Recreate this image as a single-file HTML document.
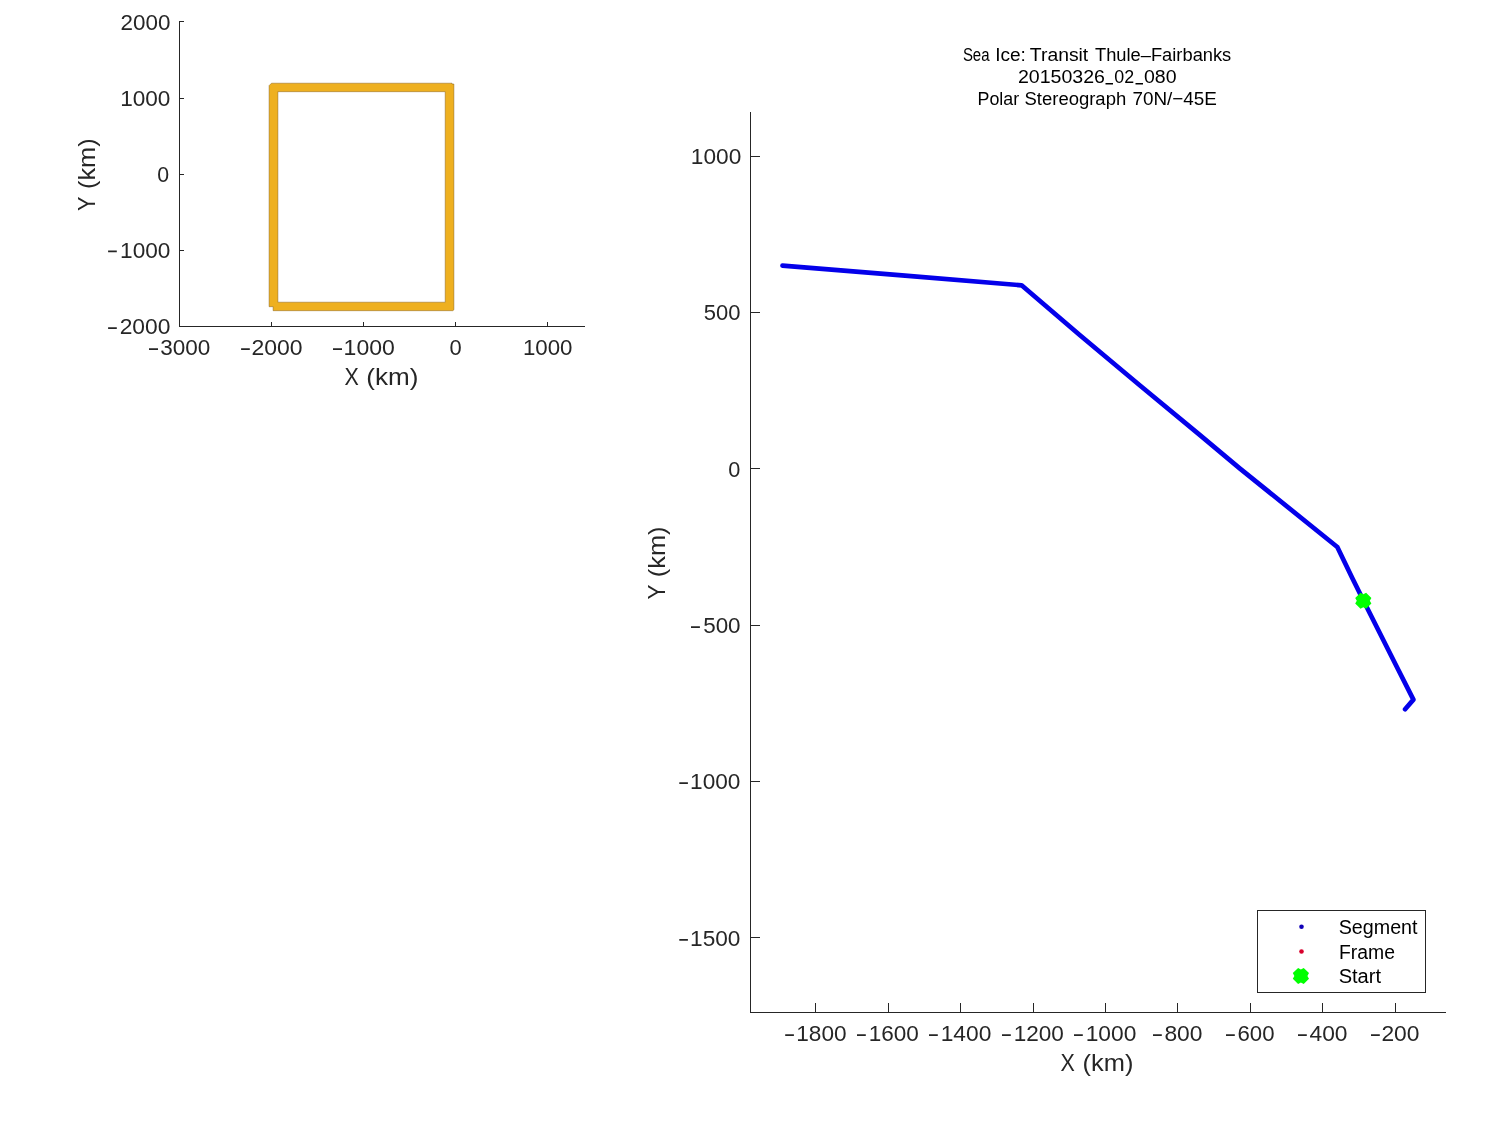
<!DOCTYPE html>
<html>
<head>
<meta charset="utf-8">
<title>Sea Ice: Transit Thule-Fairbanks</title>
<style>
  html, body { margin: 0; padding: 0; background: #ffffff; }
  body { width: 1500px; height: 1125px; overflow: hidden; font-family: "Liberation Sans", sans-serif; }
  svg { display: block; will-change: transform; transform: translateZ(0); }
  text { font-family: "Liberation Sans", sans-serif; }
  .tk { font-size: 21.7px; fill: #262626; }
  .lb { font-size: 24.0px; fill: #262626; }
  .tt { font-size: 18.3px; fill: #000000; }
  .lg { font-size: 19.4px; fill: #000000; }
  .mn { fill: #262626; }
  .ax { stroke: #262626; stroke-width: 1; fill: none; shape-rendering: crispEdges; }
</style>
</head>
<body>
<svg width="1500" height="1125" viewBox="0 0 1500 1125">
  <rect x="0" y="0" width="1500" height="1125" fill="#ffffff"/>

  <!-- ============ INSET AXES ============ -->
  <g id="inset">
    <!-- yellow frame -->
    <path d="M269.1,85.6 L271.5,83.2 H452 V84 H453.9 V309.8 L452.9,310.7 H273.1 V306.7 H269.1 Z M277.9,91.7 V302.2 H445.2 V91.7 Z" fill="#EEB020" fill-rule="evenodd" stroke="#7A5818" stroke-opacity="0.75" stroke-width="0.6" stroke-linejoin="miter"/>
    <!-- axes lines -->
    <path class="ax" d="M179.5,21 V326.5 M179,326.5 H585"/>
    <!-- y ticks -->
    <path class="ax" d="M180,21.5 H184 M180,98.5 H184 M180,174.5 H184 M180,250.5 H184"/>
    <!-- x ticks -->
    <path class="ax" d="M271.5,322 V326 M363.5,322 V326 M455.5,322 V326 M547.5,322 V326"/>
  </g>

  <!-- ============ MAIN AXES ============ -->
  <g id="main">
    <path class="ax" d="M750.5,112 V1012.5 M750,1012.5 H1446"/>
    <path class="ax" d="M751,156.5 H760 M751,312.5 H760 M751,468.5 H760 M751,625.5 H760 M751,781.5 H760 M751,937.5 H760"/>
    <path class="ax" d="M815.5,1003 V1012 M888.5,1003 V1012 M960.5,1003 V1012 M1033.5,1003 V1012 M1105.5,1003 V1012 M1177.5,1003 V1012 M1250.5,1003 V1012 M1322.5,1003 V1012 M1395.5,1003 V1012"/>
  </g>

  <!-- ============ DATA (main) ============ -->
  <g id="data">
    <path d="M782.5,265.6 L902,275.3 L1021.6,285.3 L1080,335.3 L1140,385.5 L1200,435.1 L1240,468.6 L1337.3,547 L1352.5,578.5 L1363.4,600.5 L1398.4,670 L1413.4,699.6 L1405.1,709.2" fill="none" stroke="#0400EA" stroke-width="4.7" stroke-linejoin="round" stroke-linecap="round"/>
    <!-- start marker -->
    <g transform="translate(1363.3,600.8)">
      <path d="M-2.8,-8 L0,-6.5 L2.8,-8 L8.1,-2.8 L6.5,0 L8.1,2.8 L2.8,8 L0,6.5 L-2.8,8 L-8.1,2.8 L-6.5,0 L-8.1,-2.8 Z" fill="#00FF00"/>
    </g>
  </g>

  <!-- ============ LEGEND ============ -->
  <g id="legend">
    <rect x="1257.5" y="910.5" width="168" height="82" fill="#ffffff" stroke="#262626" stroke-width="1" shape-rendering="crispEdges"/>
    <circle cx="1301.5" cy="926.8" r="2.3" fill="#1000B8"/>
    <circle cx="1301.5" cy="951.5" r="2.3" fill="#D8002C"/>
    <g transform="translate(1300.9,975.9)">
      <path d="M-2.8,-8 L0,-6.5 L2.8,-8 L8.1,-2.8 L6.5,0 L8.1,2.8 L2.8,8 L0,6.5 L-2.8,8 L-8.1,2.8 L-6.5,0 L-8.1,-2.8 Z" fill="#00FF00"/>
    </g>
  </g>

  <!-- ============ TEXT ============ -->
  <g id="text">
  <!-- TEXT-BEGIN -->
    <text class="tk" x="120.57" y="30.00" textLength="49.83" lengthAdjust="spacingAndGlyphs">2000</text>
    <text class="tk" x="120.18" y="105.90" textLength="50.23" lengthAdjust="spacingAndGlyphs">1000</text>
    <text class="tk" x="157.36" y="182.20" textLength="11.84" lengthAdjust="spacingAndGlyphs">0</text>
    <text class="tk" x="120.08" y="258.00" textLength="50.33" lengthAdjust="spacingAndGlyphs">1000</text>
    <text class="tk" x="119.65" y="334.10" textLength="50.76" lengthAdjust="spacingAndGlyphs">2000</text>
    <text class="tk" x="160.22" y="355.00" textLength="50.08" lengthAdjust="spacingAndGlyphs">3000</text>
    <text class="tk" x="251.44" y="355.00" textLength="51.08" lengthAdjust="spacingAndGlyphs">2000</text>
    <text class="tk" x="343.64" y="355.00" textLength="51.18" lengthAdjust="spacingAndGlyphs">1000</text>
    <text class="tk" x="449.44" y="355.00" textLength="12.19" lengthAdjust="spacingAndGlyphs">0</text>
    <text class="tk" x="522.90" y="355.00" textLength="49.59" lengthAdjust="spacingAndGlyphs">1000</text>
    <text class="lb" x="344.53" y="384.70" textLength="14.33" lengthAdjust="spacingAndGlyphs">X</text>
    <text class="lb" x="366.37" y="384.70" textLength="52.13" lengthAdjust="spacingAndGlyphs">(km)</text>
    <text class="lb" transform="translate(94.70,211.08) rotate(-90)" textLength="14.57" lengthAdjust="spacingAndGlyphs">Y</text>
    <text class="lb" transform="translate(94.70,188.98) rotate(-90)" textLength="50.54" lengthAdjust="spacingAndGlyphs">(km)</text>
    <text class="tk" x="690.87" y="163.90" textLength="50.44" lengthAdjust="spacingAndGlyphs">1000</text>
    <text class="tk" x="703.79" y="320.10" textLength="36.68" lengthAdjust="spacingAndGlyphs">500</text>
    <text class="tk" x="728.35" y="477.10" textLength="12.07" lengthAdjust="spacingAndGlyphs">0</text>
    <text class="tk" x="703.17" y="633.10" textLength="37.42" lengthAdjust="spacingAndGlyphs">500</text>
    <text class="tk" x="690.08" y="788.90" textLength="50.33" lengthAdjust="spacingAndGlyphs">1000</text>
    <text class="tk" x="690.08" y="945.80" textLength="50.33" lengthAdjust="spacingAndGlyphs">1500</text>
    <text class="tk" x="796.28" y="1040.90" textLength="50.33" lengthAdjust="spacingAndGlyphs">1800</text>
    <text class="tk" x="868.68" y="1040.90" textLength="50.12" lengthAdjust="spacingAndGlyphs">1600</text>
    <text class="tk" x="940.66" y="1040.90" textLength="50.65" lengthAdjust="spacingAndGlyphs">1400</text>
    <text class="tk" x="1013.68" y="1040.90" textLength="50.12" lengthAdjust="spacingAndGlyphs">1200</text>
    <text class="tk" x="1085.66" y="1040.90" textLength="50.65" lengthAdjust="spacingAndGlyphs">1000</text>
    <text class="tk" x="1164.45" y="1040.90" textLength="38.06" lengthAdjust="spacingAndGlyphs">800</text>
    <text class="tk" x="1237.48" y="1040.90" textLength="37.00" lengthAdjust="spacingAndGlyphs">600</text>
    <text class="tk" x="1309.47" y="1040.90" textLength="38.03" lengthAdjust="spacingAndGlyphs">400</text>
    <text class="tk" x="1381.45" y="1040.90" textLength="38.06" lengthAdjust="spacingAndGlyphs">200</text>
    <text class="lb" x="1060.43" y="1070.70" textLength="14.33" lengthAdjust="spacingAndGlyphs">X</text>
    <text class="lb" x="1082.61" y="1070.70" textLength="50.86" lengthAdjust="spacingAndGlyphs">(km)</text>
    <text class="lb" transform="translate(664.80,599.50) rotate(-90)" textLength="15.01" lengthAdjust="spacingAndGlyphs">Y</text>
    <text class="lb" transform="translate(664.80,577.19) rotate(-90)" textLength="50.75" lengthAdjust="spacingAndGlyphs">(km)</text>
    <text class="tt" x="962.88" y="60.95" textLength="26.67" lengthAdjust="spacingAndGlyphs">Sea</text>
    <text class="tt" x="995.18" y="60.95" textLength="30.74" lengthAdjust="spacingAndGlyphs">Ice:</text>
    <text class="tt" x="1029.87" y="60.95" textLength="58.38" lengthAdjust="spacingAndGlyphs">Transit</text>
    <text class="tt" x="1095.00" y="60.95" textLength="136.28" lengthAdjust="spacingAndGlyphs">Thule–Fairbanks</text>
    <text class="tt" x="1017.93" y="82.60" textLength="87.04" lengthAdjust="spacingAndGlyphs">20150326</text>
    <text class="tt" x="1114.37" y="82.60" textLength="19.87" lengthAdjust="spacingAndGlyphs">02</text>
    <text class="tt" x="1144.00" y="82.60" textLength="32.53" lengthAdjust="spacingAndGlyphs">080</text>
    <text class="tt" x="977.54" y="105.00" textLength="41.67" lengthAdjust="spacingAndGlyphs">Polar</text>
    <text class="tt" x="1024.49" y="105.00" textLength="101.73" lengthAdjust="spacingAndGlyphs">Stereograph</text>
    <text class="tt" x="1132.47" y="105.00" textLength="84.45" lengthAdjust="spacingAndGlyphs">70N/−45E</text>
    <text class="lg" x="1338.68" y="933.80" textLength="78.86" lengthAdjust="spacingAndGlyphs">Segment</text>
    <text class="lg" x="1339.00" y="958.80" textLength="55.99" lengthAdjust="spacingAndGlyphs">Frame</text>
    <text class="lg" x="1338.67" y="982.80" textLength="42.36" lengthAdjust="spacingAndGlyphs">Start</text>
    <path class="mn" d="M108.1,250.45H116.8V252.15H108.1Z M108.1,327.35H116.8V329.05H108.1Z M149.0,348.35H158.0V350.05H149.0Z M241.1,348.35H249.8V350.05H241.1Z M333.0,348.35H342.0V350.05H333.0Z M691.0,626.25H699.9V627.95H691.0Z M679.3,782.25H687.9V783.95H679.3Z M679.3,939.05H687.9V940.75H679.3Z M785.2,1034.35H793.9V1036.05H785.2Z M857.0,1034.35H865.8V1036.05H857.0Z M929.0,1034.35H937.8V1036.05H929.0Z M1002.0,1034.35H1010.8V1036.05H1002.0Z M1074.0,1034.35H1082.8V1036.05H1074.0Z M1153.0,1034.35H1161.8V1036.05H1153.0Z M1226.0,1034.35H1234.8V1036.05H1226.0Z M1298.0,1034.35H1306.8V1036.05H1298.0Z M1371.0,1034.35H1379.8V1036.05H1371.0Z"/>
    <rect x="1105.5" y="83.0" width="7.5" height="1.5" fill="#000"/>
    <rect x="1135.5" y="83.0" width="7.5" height="1.5" fill="#000"/>
  <!-- TEXT-END -->
  </g>
</svg>
</body>
</html>
